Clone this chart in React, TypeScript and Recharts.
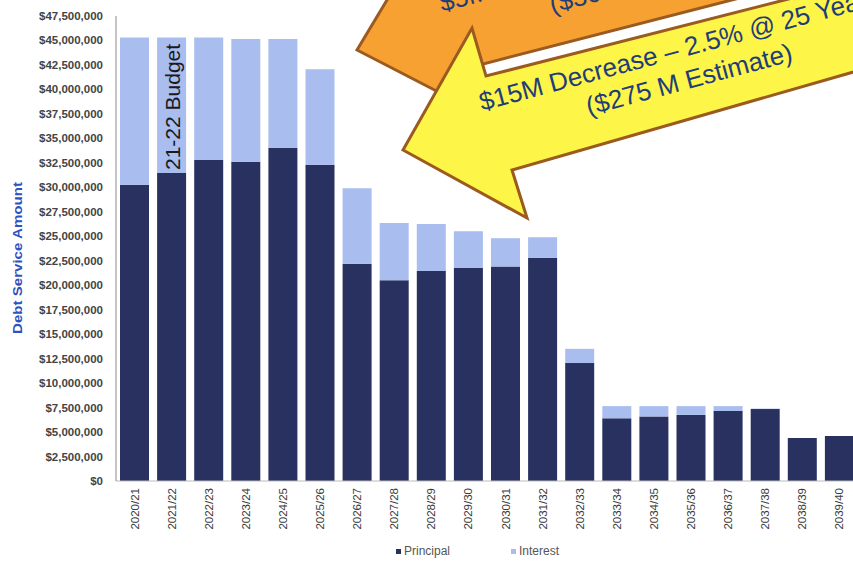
import React from 'react';
import { BarChart, Bar, XAxis, YAxis, Legend, Label } from 'recharts';

const years = [
  '2020/21', '2021/22', '2022/23', '2023/24', '2024/25', '2025/26', '2026/27', '2027/28', '2028/29', '2029/30',
  '2030/31', '2031/32', '2032/33', '2033/34', '2034/35', '2035/36', '2036/37', '2037/38', '2038/39', '2039/40',
];
const principal = [
  30250000, 31450000, 32800000, 32600000, 34050000, 32300000, 22200000, 20500000, 21450000, 21750000,
  21900000, 22800000, 12050000, 6400000, 6600000, 6750000, 7150000, 7350000, 4400000, 4600000,
];
const interest = [
  15050000, 13850000, 12500000, 12550000, 11100000, 9750000, 7700000, 5850000, 4800000, 3750000,
  2900000, 2100000, 1450000, 1250000, 1050000, 900000, 500000, 50000, 0, 0,
];
const yTicks = [
  0, 2500000, 5000000, 7500000, 10000000, 12500000, 15000000, 17500000, 20000000, 22500000,
  25000000, 27500000, 30000000, 32500000, 35000000, 37500000, 40000000, 42500000, 45000000, 47500000,
];

const data = years.map((year, i) => ({ year, principal: principal[i], interest: interest[i] }));

const FONT = 'Arial, "Liberation Sans", sans-serif';
const NAVY = '#28315f';
const LIGHT = '#a9bdee';
const BROWN = '#9a5a20';
const TEXT_BLUE = '#1f3d78';

const fmt = (v: number) => '$' + v.toLocaleString('en-US');

const XTick = ({ x, y, payload }: any) => (
  <text
    transform={`translate(${x + 4},${y + 7}) rotate(-90)`}
    textAnchor="end"
    fontSize={11.5}
    fill="#3a3a3a"
    fontFamily={FONT}
  >
    {payload.value}
  </text>
);

const YTick = ({ x, y, payload }: any) => (
  <text x={x - 13} y={y} dy="0.35em" textAnchor="end" fontSize={11.5} fontWeight={600} fill="#444" fontFamily={FONT}>
    {fmt(payload.value)}
  </text>
);

const legendLeft: Record<string, number> = { Principal: 396, Interest: 511 };

const renderLegend = (props: any) => (
  <div style={{ position: 'relative', height: 18, fontFamily: FONT, fontSize: 12, color: '#555' }}>
    {(props.payload || []).map((p: any) => (
      <div
        key={p.value}
        style={{ position: 'absolute', left: legendLeft[p.value], top: 0, height: 18, display: 'flex', alignItems: 'center' }}
      >
        <span style={{ display: 'inline-block', width: 5, height: 5, background: p.color, marginRight: 3 }} />
        {p.value}
      </div>
    ))}
  </div>
);

const Arrows = () => (
  <svg width={853} height={561} style={{ position: 'absolute', left: 0, top: 0, pointerEvents: 'none' }}>
    <polygon
      points="357,50 399,-20 930,-200 930,-51 483,64 450,98"
      fill="#f8a133"
      stroke={BROWN}
      strokeWidth={3}
      strokeLinejoin="miter"
    />
    <g transform="translate(442,12) rotate(-15)" fontFamily={FONT} fontSize={26} fill={TEXT_BLUE}>
      <text x={0} y={0}>$5M Decrease – 3.0% @ 20 Years</text>
      <text x={106} y={30}>($300 M Estimate)</text>
    </g>
    <polygon
      points="403,150 472,28 486,76 930,-37 930,50 512,170 527,218"
      fill="#fdf548"
      stroke={BROWN}
      strokeWidth={3}
      strokeLinejoin="miter"
    />
    <g transform="translate(482,111) rotate(-15)" fontFamily={FONT} fontSize={26} fill={TEXT_BLUE}>
      <text x={0} y={0}>$15M Decrease – 2.5% @ 25 Years</text>
      <text x={102} y={32}>($275 M Estimate)</text>
    </g>
    <text transform="translate(180,170) rotate(-90)" fontFamily={FONT} fontSize={21} fill="#1a1a1a">
      21-22 Budget
    </text>
  </svg>
);

export default function App() {
  return (
    <div style={{ position: 'absolute', left: 0, top: 0, width: 853, height: 561, overflow: 'hidden', background: '#fff' }}>
      <BarChart width={858} height={561} data={data} margin={{ top: 16, right: 0, left: 0, bottom: 1 }}>
        <XAxis
          dataKey="year"
          height={61}
          interval={0}
          tick={<XTick />}
          tickSize={0}
          tickMargin={0}
          tickLine={false}
          axisLine={{ stroke: '#bbb' }}
        />
        <YAxis
          width={116}
          domain={[0, 47500000]}
          ticks={yTicks}
          interval={0}
          tick={<YTick />}
          tickSize={0}
          tickMargin={0}
          tickLine={false}
          axisLine={{ stroke: '#888' }}
          label={
            <Label
              content={() => (
                <text
                  transform="translate(22,258) rotate(-90)"
                  textAnchor="middle"
                  fontFamily={FONT}
                  fontSize={13}
                  fontWeight="bold"
                  fill="#2f52c0"
                  textLength={152}
                  lengthAdjust="spacingAndGlyphs"
                >
                  Debt Service Amount
                </text>
              )}
            />
          }
        />
        <Legend verticalAlign="bottom" content={renderLegend} />
        <Bar dataKey="principal" name="Principal" stackId="a" fill={NAVY} barSize={29} isAnimationActive={false} />
        <Bar dataKey="interest" name="Interest" stackId="a" fill={LIGHT} barSize={29} isAnimationActive={false} />
      </BarChart>
      <Arrows />
    </div>
  );
}
